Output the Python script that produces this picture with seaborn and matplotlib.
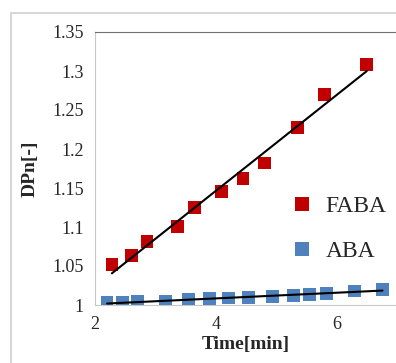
import numpy as np
import pandas as pd
import matplotlib
matplotlib.use("Agg")
import matplotlib.pyplot as plt
import seaborn as sns
from matplotlib.patches import Rectangle

# values
faba_time = [2.28, 2.6, 2.86, 3.36, 3.65, 4.1, 4.45, 4.8, 5.35, 5.8, 6.5]
faba_dpn = [1.052, 1.063, 1.081, 1.101, 1.125, 1.145, 1.162, 1.182, 1.228, 1.27, 1.308]
aba_time = [2.2, 2.45, 2.71, 3.17, 3.55, 3.9, 4.21, 4.54, 4.94, 5.29, 5.55, 5.83, 6.3, 6.76]
aba_dpn = [1.003, 1.003, 1.004, 1.005, 1.007, 1.008, 1.009, 1.01, 1.011, 1.012, 1.013, 1.015, 1.018, 1.02]
y_ticks = [1, 1.05, 1.1, 1.15, 1.2, 1.25, 1.3, 1.35]
x_ticks = [2, 4, 6]

df = pd.concat([
    pd.DataFrame({"time": faba_time, "dpn": faba_dpn, "series": "FABA"}),
    pd.DataFrame({"time": aba_time, "dpn": aba_dpn, "series": "ABA"}),
])

sns.set_style("white")
plt.rcParams["font.family"] = ["Liberation Serif", "DejaVu Serif"]

fig = plt.figure(figsize=(3.96, 3.63), dpi=100)
fig.patches.append(Rectangle((11 / 396, -0.1), 1.2, 1 - 13 / 363 + 0.1, transform=fig.transFigure,
                             fill=False, edgecolor="#d0d0d0", linewidth=1.2))
ax = fig.add_axes([95 / 396, 1 - 305 / 363, 302 / 396, 273 / 363])

palette = {"FABA": "#C00000", "ABA": "#4F81BD"}
sns.scatterplot(data=df, x="time", y="dpn", hue="series", palette=palette, marker="s",
                s=85, linewidth=0, ax=ax, zorder=3)
for name in ["FABA", "ABA"]:
    sub = df[df["series"] == name]
    sns.regplot(data=sub, x="time", y="dpn", scatter=False, ci=None, truncate=True,
                line_kws={"color": "black", "linewidth": 1.5, "zorder": 4}, ax=ax)

ax.set_xlim(2, 7)
ax.set_ylim(1, 1.35)
ax.set_xticks(x_ticks)
ax.set_yticks(y_ticks)
ax.set_yticklabels([f"{v:g}" for v in y_ticks])
ax.tick_params(axis="both", labelsize=13, direction="in", length=4, color="#c8c8c8", pad=8)
ax.set_xlabel("Time[min]", fontsize=14, fontweight="bold", labelpad=2)
ax.set_ylabel("DPn[-]", fontsize=14, fontweight="bold", labelpad=10)
for side in ["left", "bottom"]:
    ax.spines[side].set_color("#c8c8c8")
for side in ["top", "right"]:
    ax.spines[side].set_color("#707070")

leg = ax.legend(loc="center right", bbox_to_anchor=(1.035, 0.278), frameon=False, fontsize=17,
                handletextpad=0.0, labelspacing=1.0, markerscale=1.1)

fig.savefig("out.png", dpi=100)
